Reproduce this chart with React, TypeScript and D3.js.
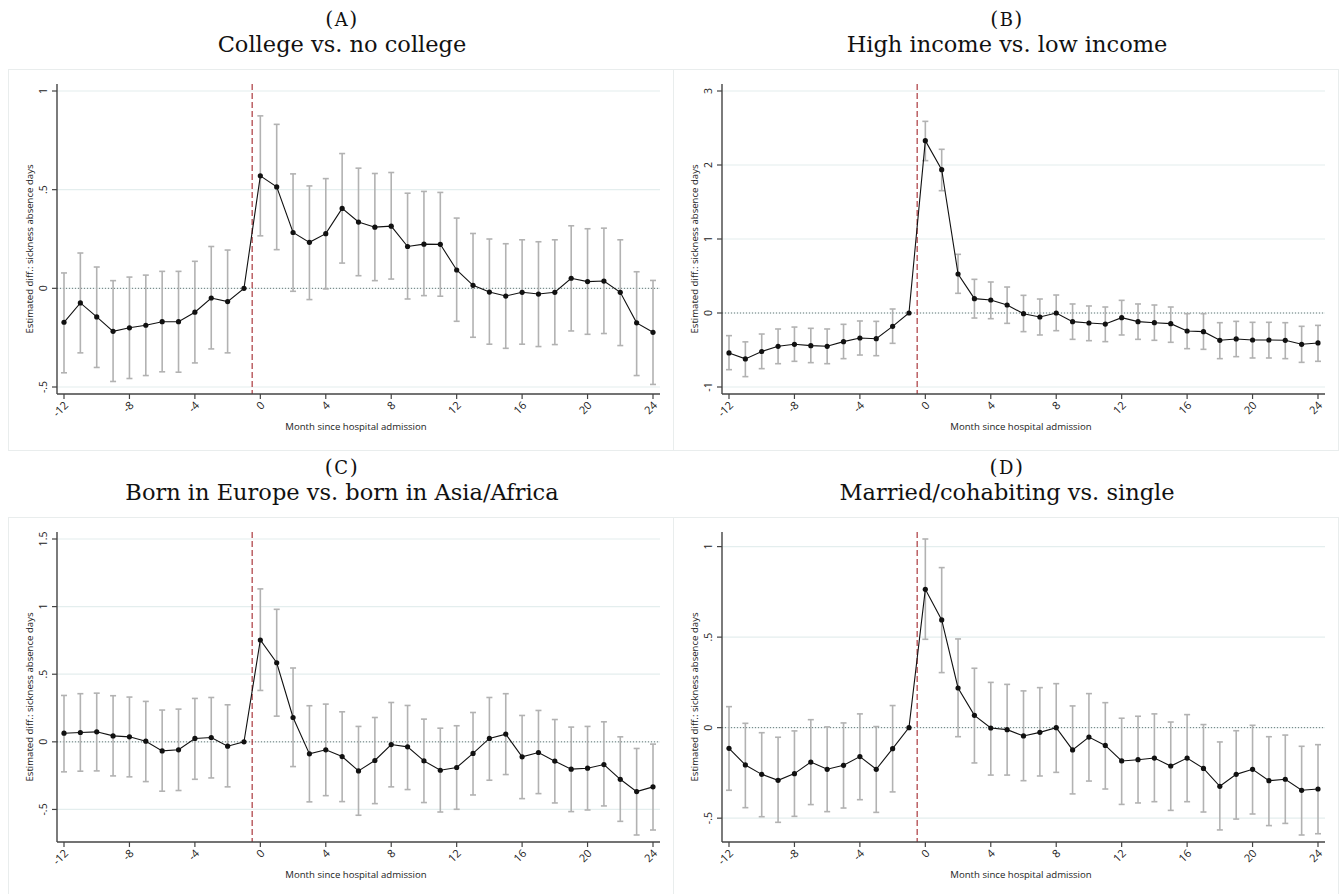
import React from "react";
import * as d3 from "d3";

const months = [-12, -11, -10, -9, -8, -7, -6, -5, -4, -3, -2, -1, 0, 1, 2, 3, 4, 5, 6, 7, 8, 9, 10, 11, 12, 13, 14, 15, 16, 17, 18, 19, 20, 21, 22, 23, 24];
const xTicks = [-12, -8, -4, 0, 4, 8, 12, 16, 20, 24];

// Panel A: College vs. no college
const estA = [-0.172, -0.074, -0.145, -0.218, -0.2, -0.187, -0.169, -0.169, -0.121, -0.049, -0.067, 0, 0.57, 0.514, 0.283, 0.233, 0.277, 0.405, 0.336, 0.31, 0.315, 0.212, 0.224, 0.223, 0.093, 0.015, -0.019, -0.039, -0.02, -0.029, -0.02, 0.051, 0.034, 0.037, -0.02, -0.175, -0.223];
const hiA = [0.078, 0.179, 0.108, 0.039, 0.057, 0.067, 0.086, 0.086, 0.137, 0.212, 0.194, null, 0.874, 0.831, 0.58, 0.519, 0.556, 0.683, 0.609, 0.582, 0.587, 0.482, 0.491, 0.486, 0.356, 0.278, 0.25, 0.226, 0.246, 0.236, 0.246, 0.317, 0.302, 0.305, 0.246, 0.084, 0.04];
const loA = [-0.428, -0.327, -0.401, -0.472, -0.457, -0.442, -0.423, -0.425, -0.378, -0.307, -0.327, null, 0.266, 0.196, -0.015, -0.057, -0.003, 0.128, 0.064, 0.039, 0.047, -0.054, -0.037, -0.04, -0.167, -0.248, -0.283, -0.304, -0.283, -0.295, -0.285, -0.216, -0.233, -0.229, -0.29, -0.442, -0.487];
const yTicksA = [-0.5, 0, 0.5, 1];

// Panel B: High income vs. low income
const estB = [-0.54, -0.62, -0.52, -0.45, -0.423, -0.441, -0.45, -0.387, -0.338, -0.347, -0.18, 0, 2.329, 1.937, 0.527, 0.194, 0.176, 0.108, -0.009, -0.054, 0, -0.117, -0.135, -0.149, -0.063, -0.117, -0.131, -0.144, -0.243, -0.252, -0.369, -0.351, -0.365, -0.365, -0.369, -0.423, -0.405];
const hiB = [-0.306, -0.39, -0.284, -0.216, -0.19, -0.207, -0.216, -0.153, -0.108, -0.113, 0.054, null, 2.59, 2.212, 0.793, 0.455, 0.419, 0.351, 0.239, 0.189, 0.243, 0.122, 0.095, 0.081, 0.171, 0.122, 0.108, 0.081, -0.009, -0.009, -0.131, -0.113, -0.126, -0.126, -0.131, -0.18, -0.167];
const loB = [-0.766, -0.86, -0.752, -0.685, -0.653, -0.671, -0.685, -0.617, -0.568, -0.577, -0.41, null, 2.059, 1.653, 0.266, -0.068, -0.077, -0.14, -0.252, -0.297, -0.239, -0.356, -0.374, -0.387, -0.297, -0.356, -0.369, -0.396, -0.482, -0.491, -0.617, -0.59, -0.608, -0.608, -0.617, -0.667, -0.653];
const yTicksB = [-1, 0, 1, 2, 3];

// Panel C: Born in Europe vs. born in Asia/Africa
const estC = [0.064, 0.069, 0.074, 0.044, 0.037, 0.005, -0.067, -0.059, 0.025, 0.032, -0.032, 0, 0.753, 0.585, 0.18, -0.089, -0.059, -0.109, -0.215, -0.138, -0.02, -0.037, -0.141, -0.21, -0.19, -0.086, 0.025, 0.057, -0.111, -0.079, -0.143, -0.202, -0.195, -0.168, -0.277, -0.368, -0.333];
const hiC = [0.343, 0.356, 0.36, 0.341, 0.331, 0.299, 0.235, 0.242, 0.321, 0.328, 0.274, null, 1.131, 0.98, 0.546, 0.267, 0.279, 0.222, 0.114, 0.18, 0.291, 0.269, 0.168, 0.101, 0.119, 0.217, 0.328, 0.356, 0.195, 0.232, 0.165, 0.109, 0.114, 0.148, 0.037, -0.049, -0.017];
const loC = [-0.222, -0.217, -0.215, -0.252, -0.259, -0.294, -0.365, -0.36, -0.277, -0.267, -0.333, null, 0.38, 0.19, -0.183, -0.444, -0.398, -0.442, -0.543, -0.457, -0.333, -0.353, -0.449, -0.519, -0.499, -0.393, -0.284, -0.242, -0.42, -0.383, -0.452, -0.516, -0.504, -0.474, -0.588, -0.689, -0.652];
const yTicksC = [-0.5, 0, 0.5, 1, 1.5];

// Panel D: Married/cohabiting vs. single
const estD = [-0.114, -0.206, -0.258, -0.291, -0.254, -0.19, -0.23, -0.208, -0.16, -0.23, -0.116, 0, 0.764, 0.595, 0.219, 0.068, -0.002, -0.011, -0.046, -0.026, 0, -0.123, -0.052, -0.098, -0.184, -0.177, -0.168, -0.212, -0.168, -0.225, -0.324, -0.258, -0.23, -0.293, -0.285, -0.346, -0.339];
const hiD = [0.116, 0.024, -0.028, -0.053, -0.018, 0.044, 0.004, 0.026, 0.076, 0.006, 0.122, null, 1.042, 0.884, 0.49, 0.328, 0.25, 0.239, 0.203, 0.221, 0.243, 0.12, 0.188, 0.138, 0.052, 0.063, 0.076, 0.031, 0.072, 0.017, -0.079, -0.017, 0.013, -0.05, -0.041, -0.103, -0.094];
const loD = [-0.346, -0.442, -0.492, -0.523, -0.49, -0.425, -0.464, -0.444, -0.398, -0.468, -0.355, null, 0.488, 0.304, -0.05, -0.195, -0.262, -0.262, -0.293, -0.267, -0.247, -0.366, -0.295, -0.339, -0.424, -0.416, -0.409, -0.457, -0.409, -0.466, -0.565, -0.505, -0.477, -0.541, -0.529, -0.593, -0.586];
const yTicksD = [-0.5, 0, 0.5, 1];

const panelLetters = ["A", "B", "C", "D"];
const panelTitles = [
  "College vs. no college",
  "High income vs. low income",
  "Born in Europe vs. born in Asia/Africa",
  "Married/cohabiting vs. single",
];
const yTitle = "Estimated diff.: sickness absence days";
const xTitle = "Month since hospital admission";

const SANS = "'Open Sans', 'Noto Sans', sans-serif";
const SERIF = "'DejaVu Serif', 'Liberation Serif', serif";

const fmt = (v: number) => {
  const s = String(Math.round(v * 100) / 100);
  return s.replace(/^0\./, ".").replace(/^-0\./, "-.");
};

type PanelProps = {
  ox: number;
  oy: number;
  letter: string;
  title: string;
  est: number[];
  lo: (number | null)[];
  hi: (number | null)[];
  yTicks: number[];
};

function Panel({ ox, oy, letter, title, est, lo, hi, yTicks }: PanelProps) {
  const loVals = lo.filter((v) => v != null) as number[];
  const hiVals = hi.filter((v) => v != null) as number[];
  const yMin = Math.min(yTicks[0], d3.min(loVals) as number, d3.min(est) as number);
  const yMax = Math.max(yTicks[yTicks.length - 1], d3.max(hiVals) as number, d3.max(est) as number);
  const y = d3.scaleLinear().domain([yMin, yMax]).range([oy + 387, oy + 91]);
  const x = d3.scaleLinear().domain([-12, 24]).range([ox + 64, ox + 653]);
  const axL = ox + 57;
  const axR = ox + 660;
  const axT = oy + 84;
  const axB = oy + 394;
  const cx = ox + 342;
  const line = d3
    .line<number>()
    .x((_, i) => x(months[i]))
    .y((d) => y(d));

  return (
    <g>
      <rect x={ox + 8.5} y={oy + 69.5} width={665} height={381} fill="#ffffff" stroke="#e9eded" strokeWidth={1} />
      <text x={cx} y={oy + 26} textAnchor="middle" fontFamily={SERIF} fontSize={20.5} fill="#111" letterSpacing={1.5}>
        (<tspan fontSize={18}>{letter}</tspan>)
      </text>
      <text x={cx} y={oy + 52} textAnchor="middle" fontFamily={SERIF} fontSize={22.5} fill="#111">
        {title}
      </text>
      {yTicks.map((t) => (
        <line key={"g" + t} x1={axL} x2={axR} y1={y(t)} y2={y(t)} stroke="#e4eeee" strokeWidth={1.2} />
      ))}
      <line x1={axL} x2={axR} y1={y(0)} y2={y(0)} stroke="#6b7a7a" strokeWidth={1} strokeDasharray="1,2" />
      <line x1={x(-0.5)} x2={x(-0.5)} y1={axT} y2={axB} stroke="#a3262c" strokeWidth={1.1} strokeDasharray="6,3" />
      {months.map((m, i) =>
        lo[i] == null || hi[i] == null ? null : (
          <g key={"e" + m} stroke="#b2b2b2" strokeWidth={1.6}>
            <line x1={x(m)} x2={x(m)} y1={y(lo[i] as number)} y2={y(hi[i] as number)} />
            <line x1={x(m) - 3} x2={x(m) + 3} y1={y(lo[i] as number)} y2={y(lo[i] as number)} />
            <line x1={x(m) - 3} x2={x(m) + 3} y1={y(hi[i] as number)} y2={y(hi[i] as number)} />
          </g>
        )
      )}
      <path d={line(est) || ""} fill="none" stroke="#111" strokeWidth={1.1} />
      {months.map((m, i) => (
        <circle key={"p" + m} cx={x(m)} cy={y(est[i])} r={2.6} fill="#111" />
      ))}
      <line x1={axL} x2={axL} y1={axT} y2={axB} stroke="#444" strokeWidth={1.4} />
      <line x1={axL} x2={axR} y1={axB} y2={axB} stroke="#444" strokeWidth={1.4} />
      {yTicks.map((t) => (
        <g key={"yt" + t}>
          <line x1={axL - 5} x2={axL} y1={y(t)} y2={y(t)} stroke="#444" strokeWidth={1.2} />
          <text
            transform={`translate(${axL - 10.5},${y(t)}) rotate(-90)`}
            textAnchor="middle"
            fontFamily={SANS}
            fontSize={10.5}
            fill="#222"
          >
            {fmt(t)}
          </text>
        </g>
      ))}
      {xTicks.map((t) => (
        <g key={"xt" + t}>
          <line x1={x(t)} x2={x(t)} y1={axB} y2={axB + 5} stroke="#444" strokeWidth={1.2} />
          <text
            transform={`translate(${x(t) + 5},${axB + 12}) rotate(-45)`}
            textAnchor="end"
            fontFamily={SANS}
            fontSize={11}
            fill="#222"
          >
            {fmt(t)}
          </text>
        </g>
      ))}
      <text
        transform={`translate(${ox + 33},${oy + 249}) rotate(-90)`}
        textAnchor="middle"
        fontFamily={SANS}
        fontSize={9.6}
        fill="#222"
      >
        {yTitle}
      </text>
      <text x={ox + 356} y={oy + 430} textAnchor="middle" fontFamily={SANS} fontSize={9.6} fill="#222">
        {xTitle}
      </text>
    </g>
  );
}

export default function App() {
  const panels = [
    { ox: 0, oy: 0, est: estA, lo: loA, hi: hiA, yTicks: yTicksA },
    { ox: 665, oy: 0, est: estB, lo: loB, hi: hiB, yTicks: yTicksB },
    { ox: 0, oy: 448, est: estC, lo: loC, hi: hiC, yTicks: yTicksC },
    { ox: 665, oy: 448, est: estD, lo: loD, hi: hiD, yTicks: yTicksD },
  ];
  return (
    <svg
      width={1340}
      height={894}
      style={{ position: "absolute", left: 0, top: 0, background: "#fff" }}
    >
      <rect x={0} y={0} width={1340} height={894} fill="#fff" />
      {panels.map((p, i) => (
        <Panel key={i} {...p} letter={panelLetters[i]} title={panelTitles[i]} />
      ))}
    </svg>
  );
}
